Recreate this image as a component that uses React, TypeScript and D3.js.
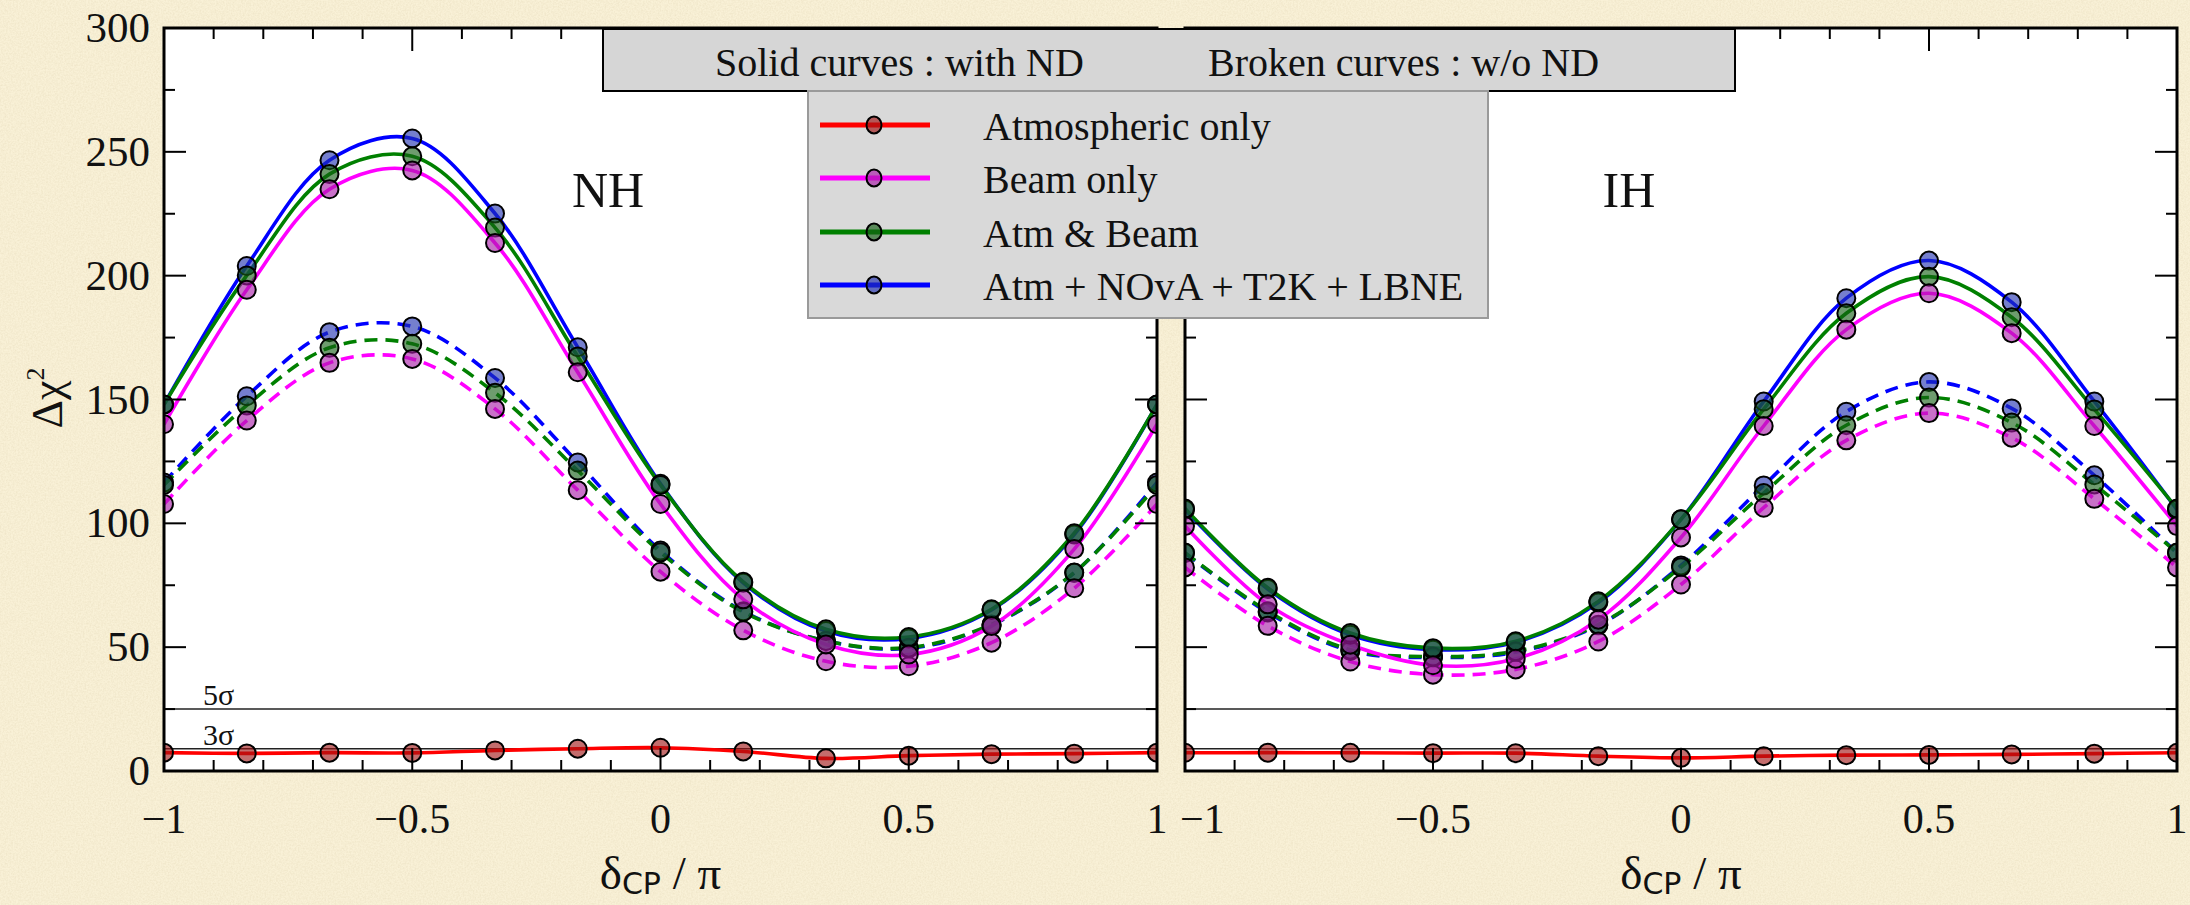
import React from 'react'
import * as d3 from 'd3'

// δCP / π sample points
const deltaCP = [-1, -0.8333, -0.6667, -0.5, -0.3333, -0.1667, 0, 0.1667, 0.3333, 0.5, 0.6667, 0.8333, 1]

// Normal hierarchy
const atmNH = [7.4, 7.1, 7.4, 7.3, 8.3, 9.0, 9.4, 7.9, 5.1, 6.2, 6.8, 7.0, 7.4]
const beamNH = [140, 194.3, 234.9, 242.5, 213.2, 161.0, 107.8, 69.3, 51.1, 47.0, 58.5, 89.6, 140]
const atmBeamNH = [148, 200.1, 241.0, 248.2, 219.4, 167.4, 115.5, 76.4, 57.2, 54.1, 65.3, 96.0, 148]
const allNH = [148, 203.9, 246.6, 255.4, 225.1, 171.1, 116, 76, 56.5, 53.5, 65, 95.5, 148]
const beamNHnoND = [107.8, 141.5, 164.8, 166.4, 146.2, 113.4, 80.5, 56.8, 44.3, 42.3, 51.8, 73.8, 107.8]
const atmBeamNHnoND = [115.5, 147.6, 170.9, 172.5, 152.7, 121.3, 88.3, 64.2, 52.5, 49.8, 59.2, 80.1, 115.5]
const allNHnoND = [116.5, 151.3, 177.2, 179.5, 158.7, 124.6, 89, 64.5, 52.5, 49.5, 59, 80, 116.5]

// Inverted hierarchy
const atmIH = [7.35, 7.4, 7.35, 7.2, 7.2, 6.0, 5.3, 6.0, 6.4, 6.5, 6.7, 7.0, 7.35]
const beamIH = [98.9, 67.3, 51, 42.7, 45.3, 61.1, 94.3, 139.3, 178.2, 192.9, 176.8, 139.3, 98.9]
const atmBeamIH = [106, 74, 55.7, 49.6, 52.4, 68.5, 101.6, 146.1, 184.8, 199.6, 183.2, 146, 106]
const allIH = [105.5, 73.5, 55, 49, 52, 68, 101.6, 149.2, 190.9, 206.1, 189.3, 149.2, 105.5]
const beamIHnoND = [82.2, 58.6, 44.2, 38.9, 41, 52.3, 75.3, 106.3, 133.5, 144.5, 134.6, 109.9, 82.2]
const atmBeamIHnoND = [88.2, 64.5, 49, 46.2, 48.4, 59.1, 82.3, 112.2, 139.6, 150.8, 140.7, 115.7, 88.2]
const allIHnoND = [88, 64, 48.5, 45.8, 48, 58.8, 83, 115.3, 145.1, 157.1, 146.4, 119.4, 88]

const legendLabels = ['Atmospheric only', 'Beam only', 'Atm & Beam', 'Atm + NOvA + T2K + LBNE']
const lineColors = ['#ff0000', '#ff00ff', '#008000', '#0000ff']
const markerColors = ['#a01414', '#a81aa8', '#155f15', '#2030b0']
const yTicks = [0, 50, 100, 150, 200, 250, 300]
const xTicks = [-1, -0.5, 0, 0.5, 1]
const sigmaLevels = [25, 9]
const sigmaLabels = ['5σ', '3σ']

const FONT = '"Liberation Serif", "DejaVu Serif", serif'
const TOP = 28
const BOTTOM = 771

type PanelData = {
  atm: number[]
  beam: number[]
  atmBeam: number[]
  all: number[]
  beamNoND: number[]
  atmBeamNoND: number[]
  allNoND: number[]
}

function fmt(v: number) {
  return v < 0 ? '\u2212' + String(-v) : String(v)
}

function Panel({ x0, x1, label, data, id, yLabels }: { x0: number; x1: number; label: string; data: PanelData; id: string; yLabels: boolean }) {
  const x = d3.scaleLinear().domain([-1, 1]).range([x0, x1])
  const y = d3.scaleLinear().domain([0, 300]).range([BOTTOM, TOP])
  const line = d3
    .line<number>()
    .x((_, i) => x(deltaCP[i]))
    .y((v) => y(v))
    .curve(d3.curveCatmullRom.alpha(0.5))

  // draw order: dashed first, then solid; red last among lines
  const curves: { v: number[]; c: number; dash?: boolean }[] = [
    { v: data.allNoND, c: 3, dash: true },
    { v: data.atmBeamNoND, c: 2, dash: true },
    { v: data.beamNoND, c: 1, dash: true },
    { v: data.all, c: 3 },
    { v: data.atmBeam, c: 2 },
    { v: data.beam, c: 1 },
    { v: data.atm, c: 0 },
  ]

  const xMinor = d3.range(-10, 11).map((d) => d / 10)
  const yMinor = d3.range(0, 13).map((d) => d * 25)

  return (
    <g>
      <defs>
        <clipPath id={id}>
          <rect x={x0} y={TOP} width={x1 - x0} height={BOTTOM - TOP} />
        </clipPath>
      </defs>
      <rect x={x0} y={TOP} width={x1 - x0} height={BOTTOM - TOP} fill="#fff" />

      {/* sigma lines */}
      {sigmaLevels.map((s) => (
        <line key={s} x1={x0} x2={x1} y1={y(s)} y2={y(s)} stroke="#222" strokeWidth={1.5} />
      ))}
      {yLabels &&
        sigmaLabels.map((t, i) => (
          <text key={t} x={x0 + 39} y={y(sigmaLevels[i]) - 4} fontFamily={FONT} fontSize={30} fill="#111">
            {t}
          </text>
        ))}

      <g clipPath={`url(#${id})`}>
        {curves.map((c, i) => (
          <path
            key={i}
            d={line(c.v) || ''}
            fill="none"
            stroke={lineColors[c.c]}
            strokeWidth={3.6}
            strokeDasharray={c.dash ? '13,8' : undefined}
          />
        ))}
        {curves.map((c, i) =>
          c.v.map((v, j) => (
            <circle
              key={`${i}-${j}`}
              cx={x(deltaCP[j])}
              cy={y(v)}
              r={9}
              fill={markerColors[c.c]}
              fillOpacity={0.62}
              stroke="#000"
              strokeWidth={2}
            />
          ))
        )}
      </g>

      {/* ticks */}
      {xMinor.map((t) => {
        const major = Math.abs(t * 2 - Math.round(t * 2)) < 1e-6
        const len = major ? 23 : 11
        return (
          <g key={t} stroke="#000" strokeWidth={2}>
            <line x1={x(t)} x2={x(t)} y1={BOTTOM} y2={BOTTOM - len} />
            <line x1={x(t)} x2={x(t)} y1={TOP} y2={TOP + len} />
          </g>
        )
      })}
      {yMinor.map((t) => {
        const len = t % 50 === 0 ? 22 : 11
        return (
          <g key={t} stroke="#000" strokeWidth={2}>
            <line x1={x0} x2={x0 + len} y1={y(t)} y2={y(t)} />
            <line x1={x1} x2={x1 - len} y1={y(t)} y2={y(t)} />
          </g>
        )
      })}
      <rect x={x0} y={TOP} width={x1 - x0} height={BOTTOM - TOP} fill="none" stroke="#000" strokeWidth={3} />

      {/* tick labels; the right panel's first label is pushed clear of the neighbour's "1" */}
      {xTicks.map((t, i) => {
        const shifted = !yLabels && i === 0
        return (
          <text
            key={t}
            x={shifted ? x(t) - 5 : x(t)}
            y={833}
            textAnchor={shifted ? 'start' : 'middle'}
            fontFamily={FONT}
            fontSize={42}
            fill="#111"
          >
            {fmt(t)}
          </text>
        )
      })}
      {yLabels &&
        yTicks.map((t) => (
          <text key={t} x={x0 - 14} y={y(t) + 14} textAnchor="end" fontFamily={FONT} fontSize={43} fill="#111">
            {t}
          </text>
        ))}

      <text x={(x0 + x1) / 2} y={889} textAnchor="middle" fontFamily={FONT} fontSize={47} fill="#111">
        δ<tspan fontSize={30} fontFamily='"DejaVu Sans", sans-serif' dy={5}>CP</tspan>
        <tspan dy={-5}> / π</tspan>
      </text>

      <text x={x0 + 444} y={207} textAnchor="middle" fontFamily={FONT} fontSize={50} fill="#111">
        {label}
      </text>
    </g>
  )
}

function Legend() {
  const rows = [125, 178, 232, 285]
  return (
    <g fontFamily={FONT} fill="#111">
      <rect x={603} y={29} width={1132} height={62} fill="#d6d6d6" stroke="#000" strokeWidth={2} />
      <text x={715} y={76} fontSize={40}>
        Solid curves : with ND
      </text>
      <text x={1208} y={76} fontSize={40}>
        Broken curves : w/o ND
      </text>
      <rect x={808} y={91} width={680} height={227} fill="#d9d9d9" stroke="#9a9a9a" strokeWidth={2} />
      {legendLabels.map((l, i) => (
        <g key={l}>
          <line x1={820} x2={930} y1={rows[i]} y2={rows[i]} stroke={lineColors[i]} strokeWidth={5} />
          <ellipse cx={874} cy={rows[i]} rx={7.5} ry={8.5} fill={markerColors[i]} fillOpacity={0.65} stroke="#000" strokeWidth={2} />
          <text x={983} y={rows[i] + 15} fontSize={40}>
            {l}
          </text>
        </g>
      ))}
    </g>
  )
}

export default function App() {
  const nh: PanelData = {
    atm: atmNH,
    beam: beamNH,
    atmBeam: atmBeamNH,
    all: allNH,
    beamNoND: beamNHnoND,
    atmBeamNoND: atmBeamNHnoND,
    allNoND: allNHnoND,
  }
  const ih: PanelData = {
    atm: atmIH,
    beam: beamIH,
    atmBeam: atmBeamIH,
    all: allIH,
    beamNoND: beamIHnoND,
    atmBeamNoND: atmBeamIHnoND,
    allNoND: allIHnoND,
  }
  return (
    <div style={{ position: 'absolute', left: 0, top: 0 }}>
      <svg width={2190} height={905} style={{ display: 'block' }}>
        <defs>
          <filter id="paper" x="0" y="0" width="100%" height="100%">
            <feTurbulence type="fractalNoise" baseFrequency="0.6" numOctaves={3} seed={4} result="n" />
            <feColorMatrix
              in="n"
              type="matrix"
              values="0 0 0 0 0.55  0 0 0 0 0.45  0 0 0 0 0.25  0 0 0 -1.1 0.75"
            />
          </filter>
        </defs>
        <rect width={2190} height={905} fill="#f9f1d7" />
        <rect width={2190} height={905} filter="url(#paper)" opacity={0.28} />

        <Panel x0={164} x1={1157} label="NH" data={nh} id="clipNH" yLabels />
        <Panel x0={1185} x1={2177} label="IH" data={ih} id="clipIH" yLabels={false} />

        <text
          transform="translate(62,398) rotate(-90)"
          textAnchor="middle"
          fontFamily={FONT}
          fontSize={44}
          fill="#111"
        >
          Δχ<tspan fontSize={26} dy={-18}>2</tspan>
        </text>

        <Legend />
      </svg>
    </div>
  )
}
